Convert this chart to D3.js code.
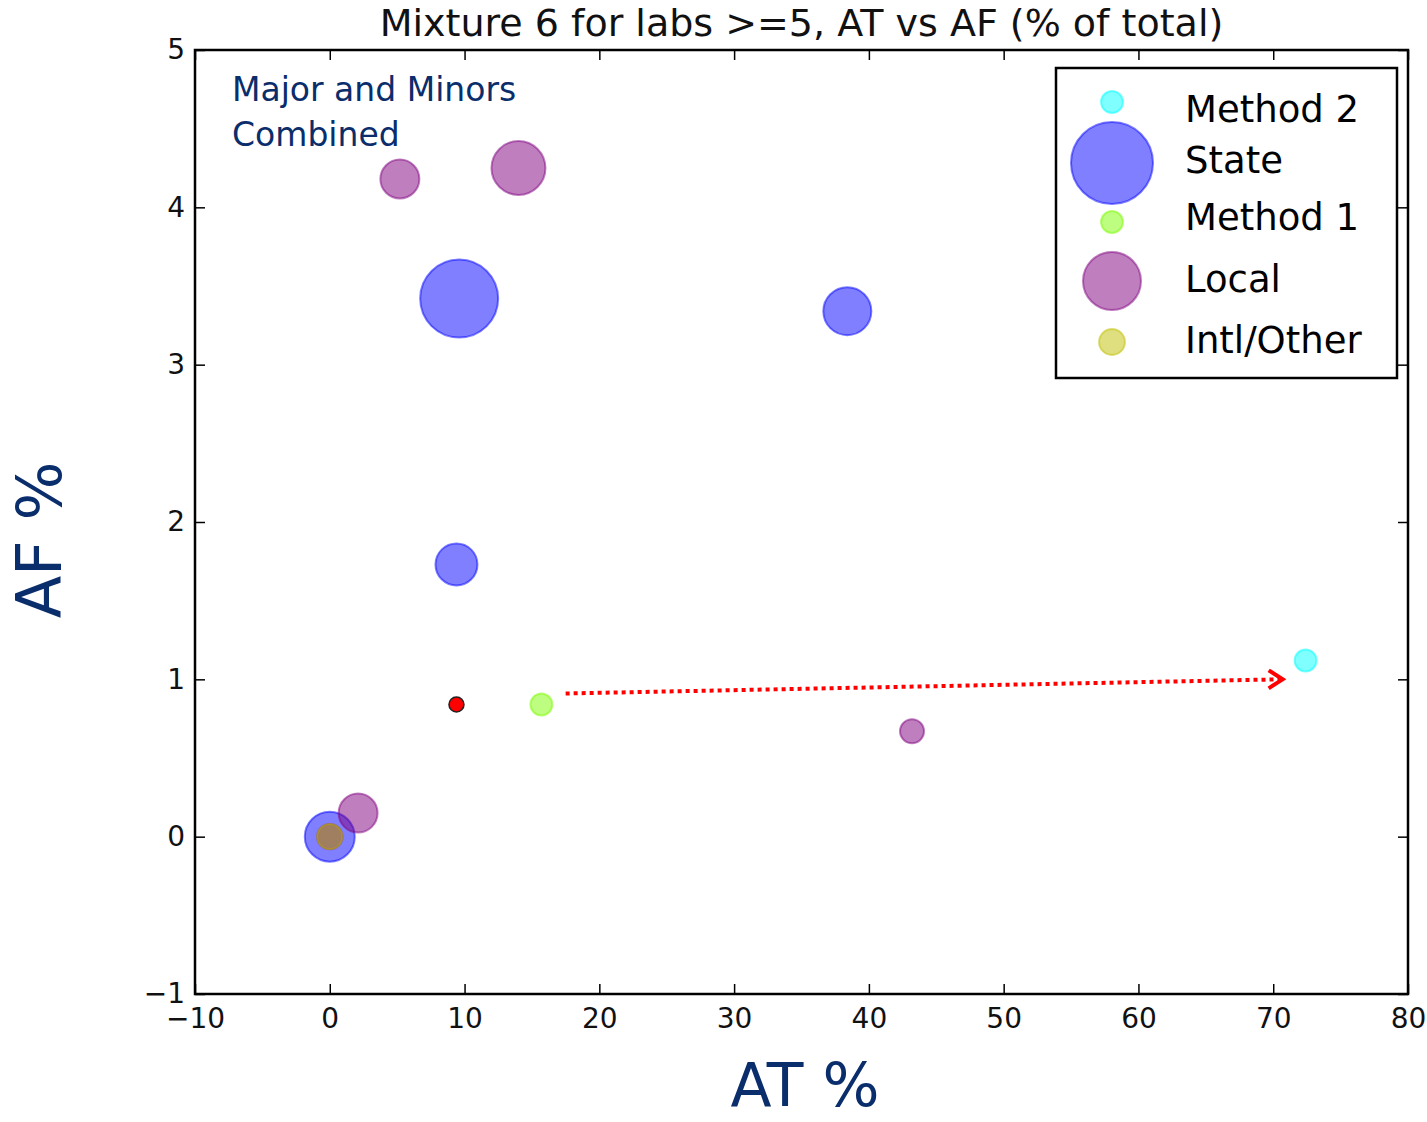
<!DOCTYPE html>
<meta charset="utf-8">
<style>
body { margin: 0; background: #fff; }
text { font-family: "DejaVu Sans", sans-serif; }
</style>
<body>
<svg id="chart" width="1427" height="1122"></svg>
</body>
<script src="https://d3js.org/d3.v7.min.js"></script>
<script>
// Data
var categories = ["Method 2", "State", "Method 1", "Local", "Intl/Other"];
var method2 = [[72.4, 1.12, 30]];           // [AT %, AF %, weight]
var state = [[9.6, 3.42, 380], [38.4, 3.34, 144], [9.4, 1.73, 110], [0.0, 0.0, 156]];
var method1 = [[15.7, 0.84, 30]];
var local = [[5.2, 4.18, 95], [14.0, 4.25, 182], [43.2, 0.67, 36], [2.1, 0.15, 95], [0.0, 0.0, 40]];
var intl = [[0.0, 0.0, 40]];
var target = [[9.4, 0.84]];
var arrowFrom = [17.5, 0.91], arrowTo = [70.7, 1.0];
var legendWeights = [30, 420, 30, 210, 42];
var xTicks = [-10, 0, 10, 20, 30, 40, 50, 60, 70, 80];
var yTicks = [-1, 0, 1, 2, 3, 4, 5];

var colors = ["#00ffff", "#0000ff", "#7cfc00", "#800080", "#bfbf00"];
var seriesList = [method2, state, method1, local, intl];

var svg = d3.select("#chart"),
  margin = { left: 195, top: 50, right: 1408, bottom: 994 };

var x = d3.scaleLinear().domain([-10, 80]).range([margin.left, margin.right]),
  y = d3.scaleLinear().domain([-1, 5]).range([margin.bottom, margin.top]),
  r = d3.scaleSqrt().domain([0, 400]).range([0, 40]);

var fmt = function (d) { return String(d).replace("-", "\u2212"); };

// axes: ticks inside on all four sides
var tl = 10;
svg.append("g").attr("transform", "translate(0," + margin.bottom + ")")
  .call(d3.axisBottom(x).tickValues(xTicks).tickSize(-tl).tickPadding(14).tickFormat(fmt));
svg.append("g").attr("transform", "translate(0," + margin.top + ")")
  .call(d3.axisTop(x).tickValues(xTicks).tickSize(-tl).tickFormat(""));
svg.append("g").attr("transform", "translate(" + margin.left + ",0)")
  .call(d3.axisLeft(y).tickValues(yTicks).tickSize(-tl).tickPadding(10).tickFormat(fmt));
svg.append("g").attr("transform", "translate(" + margin.right + ",0)")
  .call(d3.axisRight(y).tickValues(yTicks).tickSize(-tl).tickFormat(""));
svg.selectAll(".domain").remove();
svg.selectAll(".tick line").attr("stroke", "#000").attr("stroke-width", 1.5);
svg.selectAll(".tick text").attr("font-size", 28).attr("fill", "#111")
  .style("font-family", "DejaVu Sans");

// frame
svg.append("rect")
  .attr("x", margin.left).attr("y", margin.top)
  .attr("width", margin.right - margin.left).attr("height", margin.bottom - margin.top)
  .attr("fill", "none").attr("stroke", "#000").attr("stroke-width", 2.5);

// points
var plot = svg.append("g");
seriesList.forEach(function (pts, i) {
  plot.selectAll(null).data(pts).enter().append("circle")
    .attr("cx", function (d) { return x(d[0]); })
    .attr("cy", function (d) { return y(d[1]); })
    .attr("r", function (d) { return r(d[2]); })
    .attr("fill", colors[i]).attr("fill-opacity", 0.5)
    .attr("stroke", colors[i]).attr("stroke-opacity", 0.5).attr("stroke-width", 2);
});

plot.selectAll(null).data(target).enter().append("circle")
  .attr("cx", function (d) { return x(d[0]); })
  .attr("cy", function (d) { return y(d[1]); })
  .attr("r", 7.5).attr("fill", "#ff0000").attr("stroke", "#222").attr("stroke-width", 1.5);

// arrow
svg.append("line")
  .attr("x1", x(arrowFrom[0])).attr("y1", y(arrowFrom[1]))
  .attr("x2", x(arrowTo[0]) - 2).attr("y2", y(arrowTo[1]))
  .attr("stroke", "#ff0000").attr("stroke-width", 4).attr("stroke-dasharray", "4,4");
var ax = x(arrowTo[0]), ay = y(arrowTo[1]);
svg.append("path")
  .attr("d", "M" + (ax - 14) + "," + (ay - 9) + "L" + ax + "," + ay + "L" + (ax - 14) + "," + (ay + 9))
  .attr("fill", "none").attr("stroke", "#ff0000").attr("stroke-width", 4);

// legend
var legend = svg.append("g");
legend.append("rect").attr("x", 1056).attr("y", 68).attr("width", 341).attr("height", 310)
  .attr("fill", "#fff").attr("stroke", "#000").attr("stroke-width", 2.5);
var legY = [102, 163, 222, 281, 342], legBase = [122, 173, 230, 292, 353];
categories.forEach(function (c, i) {
  legend.append("circle").attr("cx", 1112).attr("cy", legY[i]).attr("r", r(legendWeights[i]))
    .attr("fill", colors[i]).attr("fill-opacity", 0.5)
    .attr("stroke", colors[i]).attr("stroke-opacity", 0.5).attr("stroke-width", 2);
  legend.append("text").attr("x", 1185).attr("y", legBase[i]).attr("font-size", 37)
    .attr("fill", "#000").text(c);
});

// texts
svg.append("text").attr("x", (margin.left + margin.right) / 2).attr("y", 36)
  .attr("text-anchor", "middle").attr("font-size", 38).attr("fill", "#111")
  .text("Mixture 6 for labs >=5, AT vs AF (% of total)");

var note = svg.append("text").attr("font-size", 33).attr("fill", "#0a2d6b");
note.append("tspan").attr("x", 232).attr("y", 101).text("Major and Minors");
note.append("tspan").attr("x", 232).attr("y", 146).text("Combined");

svg.append("text").attr("x", 805).attr("y", 1106).attr("text-anchor", "middle")
  .attr("font-size", 60).attr("fill", "#0a2d6b").text("AT %");
svg.append("text").attr("transform", "translate(61,540) rotate(-90)").attr("text-anchor", "middle")
  .attr("font-size", 62).attr("fill", "#0a2d6b").text("AF %");
</script>
